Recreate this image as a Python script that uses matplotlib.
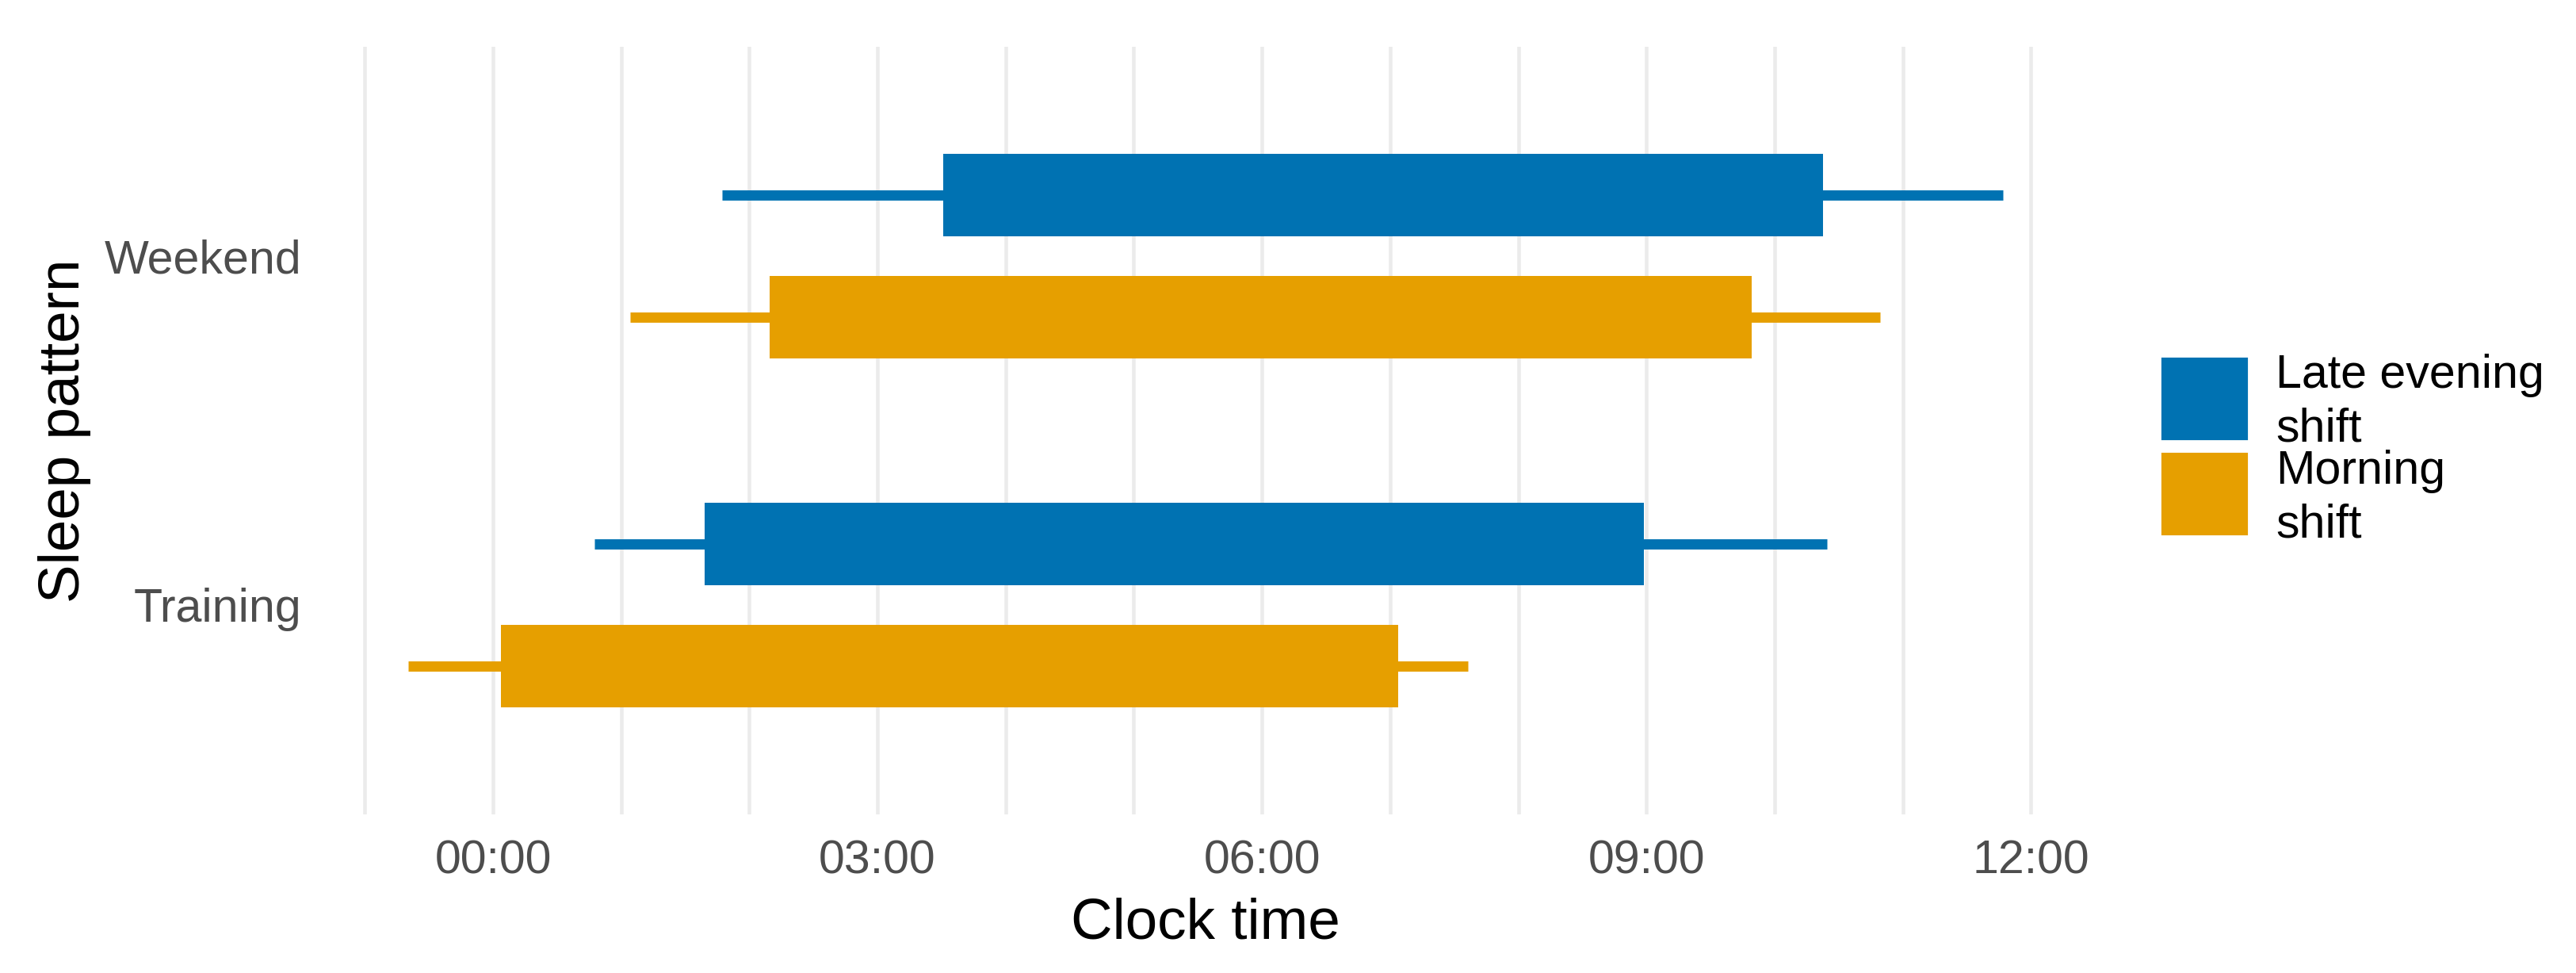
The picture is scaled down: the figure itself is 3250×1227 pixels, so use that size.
import matplotlib.pyplot as plt
import matplotlib.patches as mpatches
from matplotlib.legend_handler import HandlerPatch
import numpy as np

plt.rcParams['font.family'] = ['Liberation Sans', 'DejaVu Sans']

# categorias del eje y (de abajo hacia arriba)
patterns = ['Training', 'Weekend']
shift_names = ['Late evening\nshift', 'Morning\nshift']
shift_colors = ['#0072B2', '#E69F00']

# horas del reloj (0 = medianoche), una por patron: Training, Weekend
late_low = [0.79, 1.79]
late_q1 = [1.65, 3.51]
late_q3 = [8.98, 10.38]
late_high = [10.41, 11.78]

morning_low = [-0.66, 1.07]
morning_q1 = [0.06, 2.16]
morning_q3 = [7.06, 9.82]
morning_high = [7.61, 10.82]

hour_ticks = [0, 3, 6, 9, 12]
hour_labels = ['00:00', '03:00', '06:00', '09:00', '12:00']

W, H = 3250, 1227
fig = plt.figure(figsize=(W / 300, H / 300), dpi=300)
ax = fig.add_axes([415 / W, 1 - 1027 / H, (2627 - 415) / W, (1027 - 59) / H])

# Grilla vertical cada hora
ax.set_xticks(np.arange(-1, 13), minor=True)
ax.grid(True, which='both', axis='x', color='#EBEBEB', linewidth=1.1, zorder=0)
ax.grid(False, axis='y')

series = [
    (late_low, late_q1, late_q3, late_high),
    (morning_low, morning_q1, morning_q3, morning_high),
]
offsets = [0.175, -0.175]
base = np.arange(1, len(patterns) + 1)

for i, (lo, q1, q3, hi) in enumerate(series):
    y = base + offsets[i]
    ax.hlines(y, lo, hi, color=shift_colors[i], linewidth=3.1,
              capstyle='butt', zorder=2)
    ax.barh(y, np.array(q3) - np.array(q1), left=q1, height=0.236,
            color=shift_colors[i], zorder=3)

ax.set_xlim(-1.28, 12.40)
ax.set_ylim(0.4, 2.6)
ax.set_xticks(hour_ticks)
ax.set_xticklabels(hour_labels)
ax.set_yticks(base)
ax.set_yticklabels(patterns)

ax.tick_params(axis='both', which='both', length=0, labelsize=14.2,
               labelcolor='#4D4D4D')
ax.tick_params(axis='x', pad=7.5)
ax.tick_params(axis='y', pad=8.4)
for s in ax.spines.values():
    s.set_visible(False)

ax.set_xlabel('Clock time', fontsize=17.5, color='black', labelpad=4.5)
ax.set_ylabel('Sleep pattern', fontsize=17.5, color='black', labelpad=4)


# Cuadro de la leyenda centrado con las dos lineas del texto
def key_patch(legend, orig_handle, xdescent, ydescent, width, height, fontsize):
    h = 1.69 * fontsize
    return mpatches.Rectangle((-xdescent, 0.45 * fontsize - h / 2), width, h)


handles = [mpatches.Patch(color=c, label=n) for c, n in zip(shift_colors, shift_names)]
leg = fig.legend(handles=handles, loc='center left',
                 bbox_to_anchor=(2729 / W, 1 - 568 / H), frameon=False,
                 fontsize=14.2, handlelength=1.77, handleheight=1.0,
                 handletextpad=0.63, labelspacing=-0.03, borderpad=0,
                 borderaxespad=0,
                 handler_map={mpatches.Patch: HandlerPatch(patch_func=key_patch)})
for t in leg.get_texts():
    t.set_linespacing(1.29)

fig.savefig('out.png', dpi=300, facecolor='white')
